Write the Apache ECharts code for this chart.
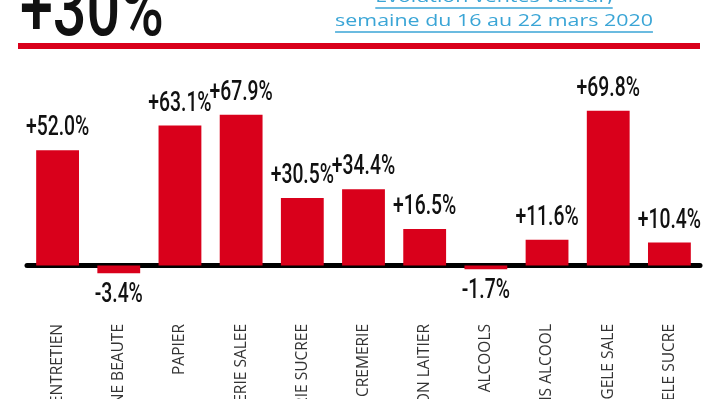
<!DOCTYPE html>
<html>
<head>
<meta charset="utf-8">
<script src="https://cdn.jsdelivr.net/npm/echarts@6/dist/echarts.min.js"></script>
<style>
html,body{margin:0;padding:0;background:#fff;}
#chart{width:710px;height:399px;}
</style>
</head>
<body>
<div id="chart"></div>
<script>
const categories = ["PRODUITS D'ENTRETIEN", "HYGIENE BEAUTE", "PAPIER", "EPICERIE SALEE", "EPICERIE SUCREE", "CREMERIE", "FRAIS NON LAITIER", "ALCOOLS", "BOISSONS SANS ALCOOL", "SURGELE SALE", "SURGELE SUCRE"];
const values = [52.0, -3.4, 63.1, 67.9, 30.5, 34.4, 16.5, -1.7, 11.6, 69.8, 10.4];
const headline = "+30%";
const subtitleLines = ["Evolution ventes valeur,", "semaine du 16 au 22 mars 2020"];

const RED = '#d9001b';
const BLUE = '#3aa5d6';
const subFont = "17px 'Open Sans'";
const subScale = 1.26;
const subCenter = 494;

function textWidth(str, font) {
  const c = document.createElement('canvas').getContext('2d');
  c.font = font;
  return c.measureText(str).width;
}
const w0 = textWidth(subtitleLines[0], subFont) * subScale;
const w1 = textWidth(subtitleLines[1], subFont) * subScale;

const fmt = v => (v > 0 ? '+' : '') + v.toFixed(1) + '%';

const chart = echarts.init(document.getElementById('chart'));

chart.setOption({
  animation: false,
  graphic: [
    { type: 'text', x: 20, y: 55, scaleX: 0.74,
      style: { text: headline, font: "500 80px Roboto", fill: '#111', textAlign: 'left', textVerticalAlign: 'bottom' } },
    { type: 'text', x: subCenter, y: 6, scaleX: subScale,
      style: { text: subtitleLines[0], font: subFont, fill: BLUE, textAlign: 'center', textVerticalAlign: 'bottom' } },
    { type: 'text', x: subCenter, y: 30, scaleX: subScale,
      style: { text: subtitleLines[1], font: subFont, fill: BLUE, textAlign: 'center', textVerticalAlign: 'bottom' } },
    { type: 'line', shape: { x1: subCenter - w0 / 2, y1: 8, x2: subCenter + w0 / 2, y2: 8 }, style: { stroke: BLUE, lineWidth: 1.5 } },
    { type: 'line', shape: { x1: subCenter - w1 / 2, y1: 32, x2: subCenter + w1 / 2, y2: 32 }, style: { stroke: BLUE, lineWidth: 1.5 } },
    { type: 'rect', shape: { x: 18, y: 43, width: 682, height: 6 }, style: { fill: RED } }
  ],
  grid: { left: 27, right: 10, top: 88, bottom: 89, containLabel: false, outerBoundsMode: 'none' },
  xAxis: {
    type: 'category',
    data: categories,
    axisLine: { onZero: true, lineStyle: { color: '#000', width: 5 } },
    axisTick: { show: false },
    axisLabel: { rotate: 90, margin: 14, interval: 0, fontFamily: 'Open Sans', fontSize: 15.5, color: '#333' }
  },
  yAxis: {
    type: 'value',
    min: -20,
    max: 80,
    show: false,
    splitLine: { show: false }
  },
  series: [
    {
      type: 'bar',
      barCategoryGap: '30%',
      itemStyle: { color: RED },
      data: values
    },
    {
      type: 'custom',
      data: values.map((v, i) => [i, v]),
      z: 5,
      renderItem: function (params, api) {
        const v = api.value(1);
        const pt = api.coord([api.value(0), v]);
        return {
          type: 'text',
          x: pt[0],
          y: pt[1] + (v < 0 ? 8 : -8),
          scaleX: 0.69,
          style: {
            text: fmt(v),
            font: "500 28px Roboto",
            fill: '#111',
            textAlign: 'center',
            textVerticalAlign: v < 0 ? 'top' : 'bottom'
          }
        };
      }
    }
  ]
});
</script>
</body>
</html>
